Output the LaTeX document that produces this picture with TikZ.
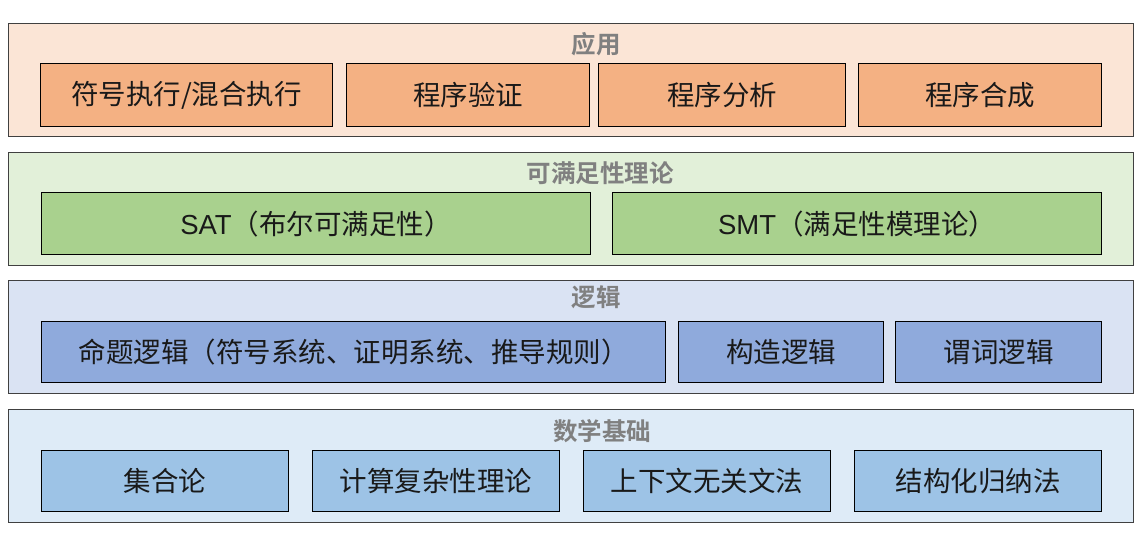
\documentclass[tikz,border=0pt]{standalone}
\usepackage{fontspec}
\newfontfamily\cjk{Noto Sans CJK SC}
\newfontfamily\cjkb{Noto Sans CJK SC Bold}
\newfontfamily\lat{Liberation Sans}
\definecolor{bgA}{HTML}{FBE5D6}\definecolor{inA}{HTML}{F4B183}
\definecolor{bgB}{HTML}{E2F0D9}\definecolor{inB}{HTML}{A9D18E}
\definecolor{bgC}{HTML}{DAE3F3}\definecolor{inC}{HTML}{8FAADC}
\definecolor{bgD}{HTML}{DEEBF7}\definecolor{inD}{HTML}{9DC3E6}
\definecolor{edge}{HTML}{404040}\definecolor{ttl}{HTML}{808080}
\tikzset{
  layer/.style={draw=edge, line width=1.3pt, rectangle, inner sep=0pt, anchor=north west},
  item/.style={draw=black, line width=1.1pt, rectangle, inner sep=0pt, anchor=north west, font=\cjk\fontsize{27.5}{30}\selectfont, text=black!90},
  title/.style={font=\cjkb\fontsize{24.5}{27}\selectfont, text=ttl, inner sep=0pt}
}
\begin{document}
\begin{tikzpicture}[x=1pt,y=-1pt]
\useasboundingbox (0,0) rectangle (1146,542);
% layers
\node[layer, fill=bgA, minimum width=1125pt, minimum height=113pt] (L1) at (8,23) {};
\node[layer, fill=bgB, minimum width=1125pt, minimum height=113pt] (L2) at (8,152) {};
\node[layer, fill=bgC, minimum width=1125pt, minimum height=113pt] (L3) at (8,280) {};
\node[layer, fill=bgD, minimum width=1125pt, minimum height=113pt] (L4) at (8,409) {};
% titles
\node[title] (T1) at (596,44) {应用};
\node[title] (T2) at (600,173) {可满足性理论};
\node[title] (T3) at (596,297) {逻辑};
\node[title] (T4) at (602,431) {数学基础};
% layer 1
\node[item, fill=inA, minimum width=292pt, minimum height=63pt] (a1) at (40,63) {符号执行/混合执行};
\node[item, fill=inA, minimum width=243pt, minimum height=63pt] (a2) at (346,63) {程序验证};
\node[item, fill=inA, minimum width=247pt, minimum height=63pt] (a3) at (598,63) {程序分析};
\node[item, fill=inA, minimum width=243pt, minimum height=63pt] (a4) at (858,63) {程序合成};
% layer 2
\node[item, fill=inB, minimum width=549pt, minimum height=62pt] (b1) at (41,192) {{\lat SAT}（布尔可满足性）};
\node[item, fill=inB, minimum width=489pt, minimum height=62pt] (b2) at (612,192) {{\lat SMT}（满足性模理论）};
% layer 3
\node[item, fill=inC, minimum width=624pt, minimum height=61pt] (c1) at (41,321) {命题逻辑（符号系统、证明系统、推导规则）};
\node[item, fill=inC, minimum width=205pt, minimum height=61pt] (c2) at (678,321) {构造逻辑};
\node[item, fill=inC, minimum width=206pt, minimum height=61pt] (c3) at (895,321) {谓词逻辑};
% layer 4
\node[item, fill=inD, minimum width=247pt, minimum height=61pt] (d1) at (41,450) {集合论};
\node[item, fill=inD, minimum width=247pt, minimum height=61pt] (d2) at (312,450) {计算复杂性理论};
\node[item, fill=inD, minimum width=247pt, minimum height=61pt] (d3) at (583,450) {上下文无关文法};
\node[item, fill=inD, minimum width=247pt, minimum height=61pt] (d4) at (854,450) {结构化归纳法};
\end{tikzpicture}
\end{document}
